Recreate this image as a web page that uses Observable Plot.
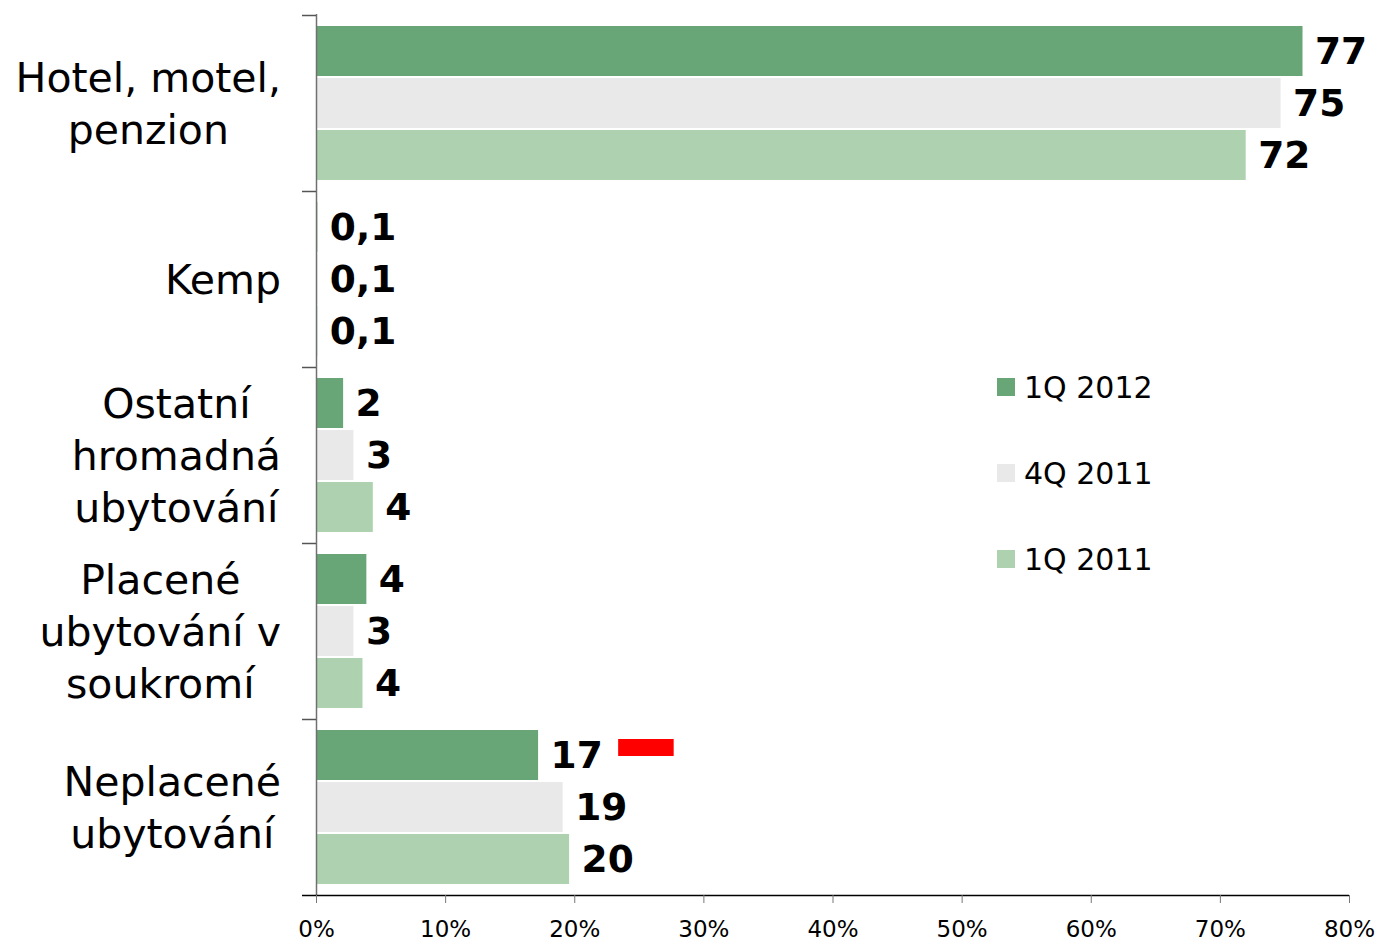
<!DOCTYPE html>
<html><head><meta charset="utf-8">
<script src="https://cdn.jsdelivr.net/npm/d3@7"></script>
<script src="https://cdn.jsdelivr.net/npm/@observablehq/plot@0.6"></script>
<style>
body{margin:0;background:#fff;font-family:"DejaVu Sans",Verdana,sans-serif;}
#wrap{position:relative;width:1379px;height:941px;}
.legend .row{position:absolute;left:997px;display:flex;align-items:center;white-space:nowrap;font-size:30px;color:#000;height:40px;}
.legend .sw{width:18px;height:18px;margin-right:9px;}
</style></head><body><div id="wrap"></div>
<script>
const categories = ["Hotel, motel, penzion", "Kemp", "Ostatní hromadná ubytování", "Placené ubytování v soukromí", "Neplacené ubytování"];
const categoryLines = ["Hotel, motel,\npenzion", "Kemp", "Ostatní\nhromadná\nubytování", "Placené\nubytování v\nsoukromí", "Neplacené\nubytování"];
const seriesNames = ["1Q 2012", "4Q 2011", "1Q 2011"];
const values1Q2012 = [76.4, 0.1, 2.1, 3.9, 17.2];
const values4Q2011 = [74.7, 0.1, 2.9, 2.9, 19.1];
const values1Q2011 = [72.0, 0.1, 4.4, 3.6, 19.6];
const labels1Q2012 = ["77", "0,1", "2", "4", "17"];
const labels4Q2011 = ["75", "0,1", "3", "3", "19"];
const labels1Q2011 = ["72", "0,1", "4", "4", "20"];
const xTicks = [0, 10, 20, 30, 40, 50, 60, 70, 80];
const highlight = [{category: "Neplacené ubytování", from: 23.4, to: 27.7}];

const seriesColors = ["#68a677", "#e9e9e9", "#aed2b0"];
const seriesValues = [values1Q2012, values4Q2011, values1Q2011];
const seriesLabels = [labels1Q2012, labels4Q2011, labels1Q2011];
const insetTops = [11, 63, 115];
const insetBottoms = [115, 63, 11];
const labelDy = [-52, 0, 52];

const font = '"DejaVu Sans", Verdana, sans-serif';

const seriesMarks = seriesNames.flatMap((s, k) => {
  const rows = categories.map((c, i) => ({category: c, series: s, value: seriesValues[k][i], label: seriesLabels[k][i]}));
  return [
    Plot.barX(rows, {x: "value", y: "category", fill: seriesColors[k], insetTop: insetTops[k], insetBottom: insetBottoms[k]}),
    Plot.text(rows, {x: "value", y: "category", text: "label", dx: 12, dy: labelDy[k], textAnchor: "start", fontWeight: "bold", fontSize: 37.5, fill: "black"})
  ];
});

const plot = Plot.plot({
  width: 1379, height: 941,
  marginLeft: 316, marginRight: 30, marginTop: 14, marginBottom: 46,
  style: {fontFamily: font, color: "black", background: "white"},
  x: {domain: [0, 80], axis: null},
  y: {domain: categories, padding: 0, axis: null},
  marks: [
    ...seriesMarks,
    Plot.barX(highlight, {x1: "from", x2: "to", y: "category", fill: "red", insetTop: 20, insetBottom: 139}),
    Plot.ruleX([0], {stroke: "#707070", strokeWidth: 1.5}),
    Plot.ruleY(categories, {x1: 0, x2: 0, insetLeft: -14, dy: -88, stroke: "#555", strokeWidth: 1.5}),
    Plot.ruleY([categories[categories.length - 1]], {x1: 0, x2: 80, insetLeft: -14, dy: 88, stroke: "black", strokeWidth: 1.5}),
    Plot.axisX({ticks: xTicks, tickFormat: d => d + "%", tickSize: 8, tickPadding: 17, fontSize: 23, stroke: "#777", anchor: "bottom"}),
    Plot.text(categories, {y: d => d, text: (d, i) => categoryLines[i], frameAnchor: "left", dx: -150, dy: -2, textAnchor: "middle", lineHeight: 1.27, fontSize: 41, fill: "black", className: "catlab"})
  ]
});

const wrap = document.getElementById("wrap");
wrap.appendChild(plot);

// legend
const legend = document.createElement("div");
legend.className = "legend";
const legendCenters = [387, 473, 559];
seriesNames.forEach((s, k) => {
  const row = document.createElement("div");
  row.className = "row";
  row.style.top = (legendCenters[k] - 20) + "px";
  const sw = document.createElement("span");
  sw.className = "sw";
  sw.style.background = seriesColors[k];
  const tx = document.createElement("span");
  tx.textContent = s;
  row.appendChild(sw); row.appendChild(tx);
  legend.appendChild(row);
});
wrap.appendChild(legend);

// right-align each centered multi-line category label block
const svgRect = plot.getBoundingClientRect();
plot.querySelectorAll(".catlab text").forEach(t => {
  const r = t.getBoundingClientRect();
  const shift = (svgRect.left + 281) - r.right;
  t.setAttribute("transform", `translate(${shift},0) ` + (t.getAttribute("transform") || ""));
});
</script></body></html>
